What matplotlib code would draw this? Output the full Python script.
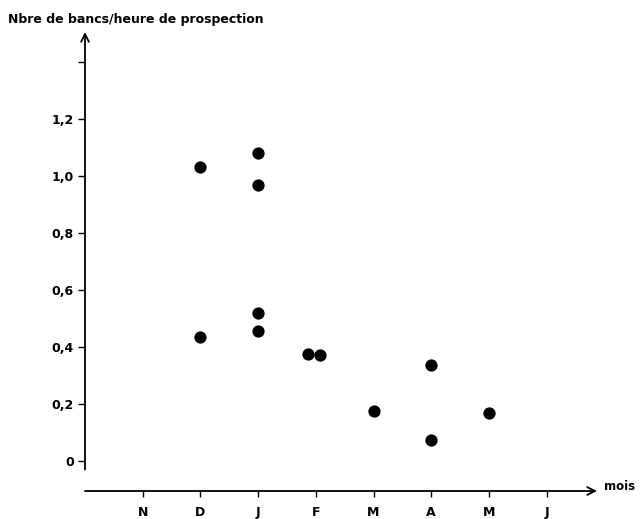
import numpy as np
import matplotlib.pyplot as plt

plt.rcParams.update({
    "font.family": ["DejaVu Sans"],
    "font.weight": "bold",
    "font.size": 9,
})

# months on the x axis (October = 0 sits at the axis origin)
MONTH_LABELS = ['N', 'D', 'J', 'F', 'M', 'A', 'M', 'J']
MONTH_POS = [1, 2, 3, 4, 5, 6, 7, 8]

# observed schools per hour of prospecting
month_x = [2, 2, 3, 3, 3, 3, 3.87, 4.08, 5, 6, 6, 7]
bancs = [1.03, 0.435, 1.08, 0.97, 0.52, 0.455, 0.375, 0.372, 0.175, 0.337, 0.075, 0.17]

YTICKS = [0, 0.2, 0.4, 0.6, 0.8, 1.0, 1.2, 1.4]
YTICK_LABELS = ['0', '0,2', '0,4', '0,6', '0,8', '1,0', '1,2', '']

W, H = 644, 519
fig = plt.figure(figsize=(W / 100, H / 100), dpi=100)
# axes box in pixels: left 85, right 597, top 32, bottom 491
ax = fig.add_axes([85 / W, 1 - 491 / H, (597 - 85) / W, (491 - 32) / H])

x_max = (597 - 85) / 57.7
y_min = -30 / 285
y_max = (461 - 32) / 285
ax.set_xlim(0, x_max)
ax.set_ylim(y_min, y_max)

ax.scatter(month_x, bancs, s=78, color='black', zorder=3, linewidths=0)

for s in ax.spines.values():
    s.set_visible(False)

# axis lines with arrow heads
ax.annotate('', xy=(0, y_max), xytext=(0, -0.03),
            arrowprops=dict(arrowstyle='->', color='black', lw=1.3,
                            mutation_scale=14, shrinkA=0, shrinkB=0))
ax.annotate('', xy=(x_max, y_min), xytext=(0, y_min),
            arrowprops=dict(arrowstyle='->', color='black', lw=1.3,
                            mutation_scale=14, shrinkA=0, shrinkB=0))

ax.set_yticks(YTICKS)
ax.set_yticklabels(YTICK_LABELS)
ax.set_xticks(MONTH_POS)
ax.set_xticklabels(MONTH_LABELS)
ax.tick_params(axis='y', direction='out', length=5, width=1, pad=3, labelsize=9)
ax.tick_params(axis='x', direction='out', length=4, width=1, pad=7, labelsize=9)

fig.text(604 / W, 1 - 487 / H, 'mois', ha='left', va='center', fontsize=8.5,
         fontweight='bold')
fig.text(8 / W, 1 - 20 / H, 'Nbre de bancs/heure de prospection',
         ha='left', va='center', fontsize=9, fontweight='bold')

fig.savefig('out.png', dpi=100)
